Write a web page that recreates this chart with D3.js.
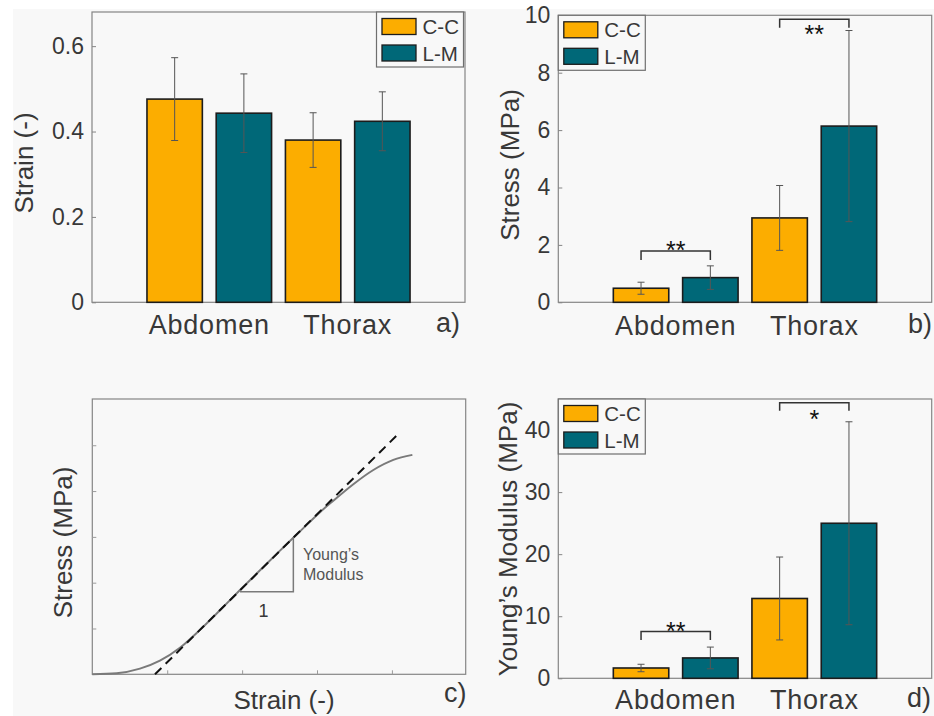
<!DOCTYPE html>
<head>
  <meta charset="utf-8">
  <script src="https://d3js.org/d3.v7.min.js"></script>
  <style>
    body { margin:0; background:#fff; }
  </style>
</head>
<body>
<script>
  var regions = ["Abdomen", "Thorax"];
  var orientations = ["C-C", "L-M"];

  // a) failure strain
  var strainCC = [0.476, 0.380], strainCCsd = [0.097, 0.064];
  var strainLM = [0.443, 0.424], strainLMsd = [0.092, 0.069];
  var strainTicks = [0, 0.2, 0.4, 0.6];

  // b) failure stress
  var stressCC = [0.49, 2.94], stressCCsd = [0.21, 1.13];
  var stressLM = [0.86, 6.14], stressLMsd = [0.41, 3.33];
  var stressTicks = [0, 2, 4, 6, 8, 10];
  var stressSigTop = [1.79, 9.86], stressSigFoot = [1.47, 9.57];
  var stressSigText = [2.0, 9.53], stressSigMark = ["**", "**"];

  // d) young's modulus
  var modulusCC = [1.66, 12.86], modulusCCsd = [0.6, 6.68];
  var modulusLM = [3.28, 24.98], modulusLMsd = [1.75, 16.35];
  var modulusTicks = [0, 10, 20, 30, 40];
  var modulusSigTop = [7.53, 44.4], modulusSigFoot = [6.19, 43.1];
  var modulusSigText = [8.45, 42.55], modulusSigMark = ["**", "*"];

  // c) schematic stress-strain curve
  var curveStrain = [0, 0.325, 0.636, 0.903, 1.170, 1.437, 1.705, 1.972, 2.239, 2.506, 2.773, 3.040, 3.218, 3.485, 3.752, 4.019, 4.273];
  var curveStress = [0, 0.022, 0.123, 0.298, 0.58, 0.97, 1.40, 1.84, 2.27, 2.70, 3.12, 3.54, 3.79, 4.15, 4.46, 4.68, 4.79];
  var tangentStrain = [0.837, 4.072], tangentStress = [0, 5.225];
  var slopeStrain = [1.972, 2.684, 2.684], slopeStress = [1.80, 1.80, 3.0];

  var font = "'Liberation Sans', Arial, Helvetica, sans-serif";
  var ink = "#383838";
  var axisGray = "#858585";
  var fills = {"C-C": "#fcad00", "L-M": "#006878"};

  var svg = d3.select("body").append("svg")
    .attr("width", 934)
    .attr("height", 716)
    .style("font-family", font);

  svg.append("rect")
    .attr("x", 13).attr("y", 9)
    .attr("width", 921).attr("height", 707)
    .attr("fill", "#f8f8f8");

  function addText(g, txt, x, y, size) {
    return g.append("text").attr("x", x).attr("y", y)
      .attr("font-size", size).attr("fill", ink).text(txt);
  }

  function yLabel(g, txt, x, yc) {
    g.append("text")
      .attr("transform", "translate(" + x + "," + yc + ") rotate(-90)")
      .attr("text-anchor", "middle")
      .attr("font-size", 26).attr("fill", ink)
      .text(txt);
  }

  function barPanel(p) {
    var g = svg.append("g");
    var x0 = d3.scaleBand().domain(regions).range([p.left, p.right])
      .paddingInner(0).paddingOuter(0.347);
    var x1 = d3.scaleBand().domain(orientations).range([0, x0.bandwidth()])
      .paddingInner(0.2).paddingOuter(0.1);
    var y = d3.scaleLinear().domain([0, p.max]).range([p.bottom, p.top]);

    var rows = [];
    regions.forEach(function(r, i) {
      rows.push({region: r, o: "C-C", v: p.cc[i], e: p.ccSd[i]});
      rows.push({region: r, o: "L-M", v: p.lm[i], e: p.lmSd[i]});
    });
    function cx(d) { return x0(d.region) + x1(d.o) + x1.bandwidth() / 2; }

    g.append("rect")
      .attr("x", p.left).attr("y", p.top)
      .attr("width", p.right - p.left).attr("height", p.bottom - p.top)
      .attr("fill", "none").attr("stroke", axisGray).attr("stroke-width", 1.2);

    var ya = g.append("g")
      .attr("transform", "translate(" + p.left + ",0)")
      .style("color", ink)
      .call(d3.axisLeft(y).tickValues(p.ticks).tickFormat(p.fmt)
        .tickSizeInner(-4).tickSizeOuter(0).tickPadding(8));
    ya.select(".domain").remove();
    ya.selectAll("line").attr("stroke", axisGray);
    ya.attr("font-size", 23).attr("font-family", font);

    var xa = g.append("g")
      .attr("transform", "translate(0," + p.bottom + ")")
      .style("color", ink)
      .call(d3.axisBottom(x0).tickSize(0).tickPadding(p.xPad));
    xa.select(".domain").remove();
    xa.attr("font-size", 27).attr("font-family", font);
    xa.selectAll("text").attr("letter-spacing", 0.8);

    g.selectAll("rect.bar").data(rows).join("rect")
      .attr("class", "bar")
      .attr("x", function(d) { return x0(d.region) + x1(d.o); })
      .attr("y", function(d) { return y(d.v); })
      .attr("width", x1.bandwidth())
      .attr("height", function(d) { return y(0) - y(d.v); })
      .attr("fill", function(d) { return fills[d.o]; })
      .attr("stroke", "#1c1c1c").attr("stroke-width", 1.6);

    var eb = g.selectAll("g.err").data(rows).join("g").attr("class", "err")
      .attr("stroke", "#555").attr("stroke-width", 1);
    eb.append("line")
      .attr("x1", cx).attr("x2", cx)
      .attr("y1", function(d) { return y(d.v + d.e); })
      .attr("y2", function(d) { return y(d.v - d.e); });
    [1, -1].forEach(function(s) {
      eb.append("line")
        .attr("x1", function(d) { return cx(d) - 3.5; })
        .attr("x2", function(d) { return cx(d) + 3.5; })
        .attr("y1", function(d) { return y(d.v + s * d.e); })
        .attr("y2", function(d) { return y(d.v + s * d.e); });
    });

    if (p.sigTop) {
      regions.forEach(function(r, i) {
        var xa1 = x0(r) + x1("C-C") + x1.bandwidth() / 2;
        var xb1 = x0(r) + x1("L-M") + x1.bandwidth() / 2;
        g.append("path")
          .attr("d", "M" + xa1 + "," + y(p.sigFoot[i]) + "V" + y(p.sigTop[i]) +
                "H" + xb1 + "V" + y(p.sigFoot[i]))
          .attr("fill", "none").attr("stroke", "#333").attr("stroke-width", 1.5);
        g.append("text")
          .attr("x", (xa1 + xb1) / 2).attr("y", y(p.sigText[i]) + 14)
          .attr("text-anchor", "middle").attr("font-size", 25)
          .attr("fill", "#111").text(p.sigMark[i]);
      });
    }

    // legend
    var lg = g.append("g").attr("transform", "translate(" + p.legend[0] + "," + p.legend[1] + ")");
    lg.append("rect").attr("width", 87).attr("height", 55)
      .attr("fill", "#f8f8f8").attr("stroke", "#6f6f6f").attr("stroke-width", 1.2);
    orientations.forEach(function(o, i) {
      lg.append("rect").attr("x", 5.5).attr("y", 6.5 + i * 26.5)
        .attr("width", 34).attr("height", 16)
        .attr("fill", fills[o]).attr("stroke", "#1c1c1c").attr("stroke-width", 1.3);
      addText(lg, o, 46, 6.5 + i * 26.5 + 15.5, 20.5);
    });

    yLabel(g, p.ylabel, p.ylabX, p.ylabY);
    addText(g, p.tag, p.tagX, p.tagY, 27);
  }

  barPanel({
    left: 92, right: 465, top: 12, bottom: 302.3, max: 0.68,
    ticks: strainTicks, fmt: function(d) { return d === 0 ? "0" : d3.format(".1f")(d); },
    cc: strainCC, ccSd: strainCCsd, lm: strainLM, lmSd: strainLMsd,
    legend: [376.5, 12], xPad: 13,
    ylabel: "Strain (-)", ylabX: 33, ylabY: 163,
    tag: "a)", tagX: 436, tagY: 332
  });

  barPanel({
    left: 558.3, right: 931.7, top: 15.3, bottom: 302.3, max: 10,
    ticks: stressTicks, fmt: d3.format("d"),
    cc: stressCC, ccSd: stressCCsd, lm: stressLM, lmSd: stressLMsd,
    sigTop: stressSigTop, sigFoot: stressSigFoot, sigText: stressSigText, sigMark: stressSigMark,
    legend: [558.3, 15.3], xPad: 14,
    ylabel: "Stress (MPa)", ylabX: 519, ylabY: 165,
    tag: "b)", tagX: 908, tagY: 333
  });

  barPanel({
    left: 558.3, right: 931.7, top: 399, bottom: 678.3, max: 45,
    ticks: modulusTicks, fmt: d3.format("d"),
    cc: modulusCC, ccSd: modulusCCsd, lm: modulusLM, lmSd: modulusLMsd,
    sigTop: modulusSigTop, sigFoot: modulusSigFoot, sigText: modulusSigText, sigMark: modulusSigMark,
    legend: [558.3, 399], xPad: 12,
    ylabel: "Young\u2019s Modulus (MPa)", ylabX: 517, ylabY: 539,
    tag: "d)", tagX: 907, tagY: 707
  });

  // panel c
  var gc = svg.append("g");
  var cL = 92.3, cR = 465.7, cT = 399, cB = 674.3;
  var xc = d3.scaleLinear().domain([0, 4.985]).range([cL, cR]);
  var yc = d3.scaleLinear().domain([0, 6.01]).range([cB, cT]);

  gc.append("rect")
    .attr("x", cL).attr("y", cT).attr("width", cR - cL).attr("height", cB - cT)
    .attr("fill", "none").attr("stroke", axisGray).attr("stroke-width", 1.2);

  var cya = gc.append("g").attr("transform", "translate(" + cL + ",0)")
    .call(d3.axisLeft(yc).tickValues([1, 2, 3, 4, 5]).tickFormat("").tickSizeInner(-4).tickSizeOuter(0));
  cya.select(".domain").remove();
  cya.selectAll("line").attr("stroke", "#9a9a9a");
  var cxa = gc.append("g").attr("transform", "translate(0," + cB + ")")
    .call(d3.axisBottom(xc).tickValues([1, 2, 3, 4]).tickFormat("").tickSizeInner(-4).tickSizeOuter(0));
  cxa.select(".domain").remove();
  cxa.selectAll("line").attr("stroke", "#9a9a9a");

  var curvePts = curveStrain.map(function(s, i) { return [s, curveStress[i]]; });
  var line = d3.line()
    .x(function(d) { return xc(d[0]); })
    .y(function(d) { return yc(d[1]); })
    .curve(d3.curveMonotoneX);

  gc.append("path").attr("d", line(curvePts))
    .attr("fill", "none").attr("stroke", "#7a7a7a").attr("stroke-width", 2);

  var slopePts = slopeStrain.map(function(s, i) { return [s, slopeStress[i]]; });
  gc.append("path").attr("d", d3.line().x(function(d) { return xc(d[0]); }).y(function(d) { return yc(d[1]); })(slopePts))
    .attr("fill", "none").attr("stroke", "#7a7a7a").attr("stroke-width", 1.5);

  var tanPts = tangentStrain.map(function(s, i) { return [s, tangentStress[i]]; });
  gc.append("path").attr("d", d3.line().x(function(d) { return xc(d[0]); }).y(function(d) { return yc(d[1]); })(tanPts))
    .attr("fill", "none").attr("stroke", "#111").attr("stroke-width", 2)
    .attr("stroke-dasharray", "9,6");

  addText(gc, "1", 263.5, 617, 18).attr("text-anchor", "middle");
  addText(gc, "Young\u2019s", 303, 560, 16).attr("fill", "#555");
  addText(gc, "Modulus", 303, 580, 16).attr("fill", "#555");

  yLabel(gc, "Stress (MPa)", 72, 542.5);
  addText(gc, "Strain (-)", 284, 709, 26).attr("text-anchor", "middle");
  addText(gc, "c)", 444, 702, 27);
</script>
</body>
